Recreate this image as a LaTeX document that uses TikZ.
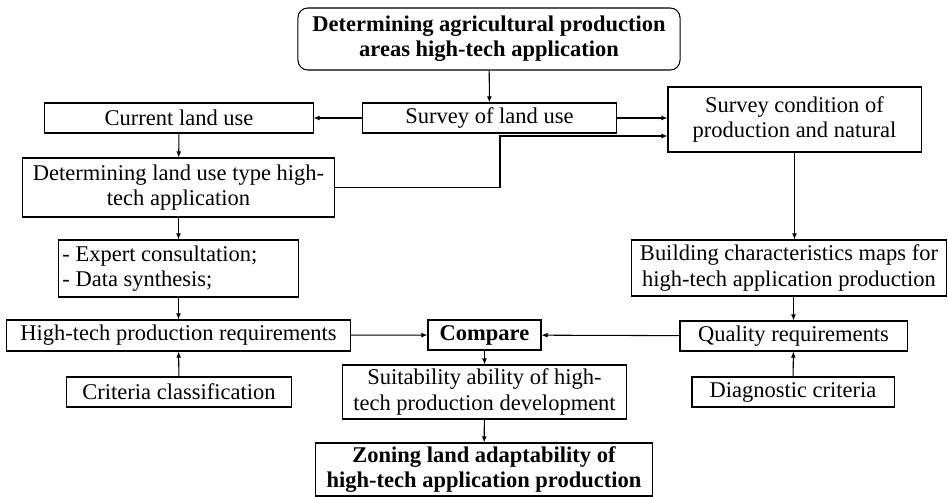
\documentclass[tikz,border=0pt]{standalone}
\usepackage{fontspec}
\setmainfont{Liberation Serif}
\usetikzlibrary{arrows.meta,calc}

\begin{document}
\begin{tikzpicture}[x=0.025cm,y=-0.025cm,>={Latex[length=1.5mm,width=1.2mm]},
  font=\fontsize{16pt}{18pt}\selectfont,
  box/.style={draw,line width=0.75pt,inner sep=0pt,align=center},
  arr/.style={line width=0.75pt,->}]
  \useasboundingbox (0,0) rectangle (948,497);

  % Top of the chart and the two survey branches.
  \node[box,rounded corners=7pt,minimum width=9.55cm,minimum height=1.55cm,font=\fontsize{16pt}{18pt}\selectfont\bfseries]
    (goal) at (489,39) {Determining agricultural production\\areas high-tech application};
  \node[box,minimum width=6.325cm,minimum height=0.75cm] (survey) at (489.5,118) {Survey of land use};
  \node[box,minimum width=6.7cm,minimum height=0.75cm] (current) at (179,118) {Current land use};
  \node[box,minimum width=6.325cm,minimum height=1.625cm] (condition) at (794.5,119.5)
    {Survey condition of\\production and natural};

  % Left column.
  \node[box,minimum width=7.775cm,minimum height=1.475cm] (landtype) at (178.5,187.5)
    {Determining land use type high-\\tech application};
  \node[box,minimum width=5.975cm,minimum height=1.425cm] (expert) at (178.5,268.5)
    {\parbox{5.8cm}{- Expert consultation;\\- Data synthesis;}};
  \node[box,minimum width=8.575cm,minimum height=0.775cm] (techreq) at (178.5,335.5)
    {High-tech production requirements};
  \node[box,minimum width=5.6cm,minimum height=0.75cm] (criteria) at (179,392) {Criteria classification};

  % Middle column.
  \node[box,minimum width=2.825cm,minimum height=0.75cm,font=\fontsize{16pt}{18pt}\selectfont\bfseries]
    (compare) at (484.5,335) {Compare};
  \node[box,minimum width=7.075cm,minimum height=1.35cm] (suitable) at (484.5,392)
    {Suitability ability of high-\\tech production development};
  \node[box,minimum width=8.4cm,minimum height=1.325cm,font=\fontsize{16pt}{18pt}\selectfont\bfseries]
    (zoning) at (484,469.5) {Zoning land adaptability of\\high-tech application production};

  % Right column.
  \node[box,minimum width=7.85cm,minimum height=1.4cm] (maps) at (789,268)
    {Building characteristics maps for\\high-tech application production};
  \node[box,minimum width=5.675cm,minimum height=0.75cm] (quality) at (793.5,336) {Quality requirements};
  \node[box,minimum width=5.05cm,minimum height=0.75cm] (diagnostic) at (793,392) {Diagnostic criteria};

  % Connectors.
  \coordinate (bend) at (500,136);
  \draw[arr] (goal) -- (survey);
  \draw[arr] (survey) -- (current);
  \draw[arr] (survey.east) -- (survey.east -| condition.west);
  \draw[arr] (landtype.east) -| (bend) -- (bend -| condition.west);
  \draw[arr] (current) -- (landtype);
  \draw[arr] (landtype) -- (expert);
  \draw[arr] (expert) -- (techreq);
  \draw[arr] (criteria) -- (techreq);
  \draw[arr] (techreq) -- (compare);
  \draw[arr] (quality) -- (compare);
  \draw[arr] (compare) -- (suitable);
  \draw[arr] (suitable) -- (zoning);
  \draw[arr] (condition.south) -- (condition.south |- maps.north);
  \draw[arr] (quality.north |- maps.south) -- (quality.north);
  \draw[arr] (diagnostic) -- (quality);
\end{tikzpicture}
\end{document}
